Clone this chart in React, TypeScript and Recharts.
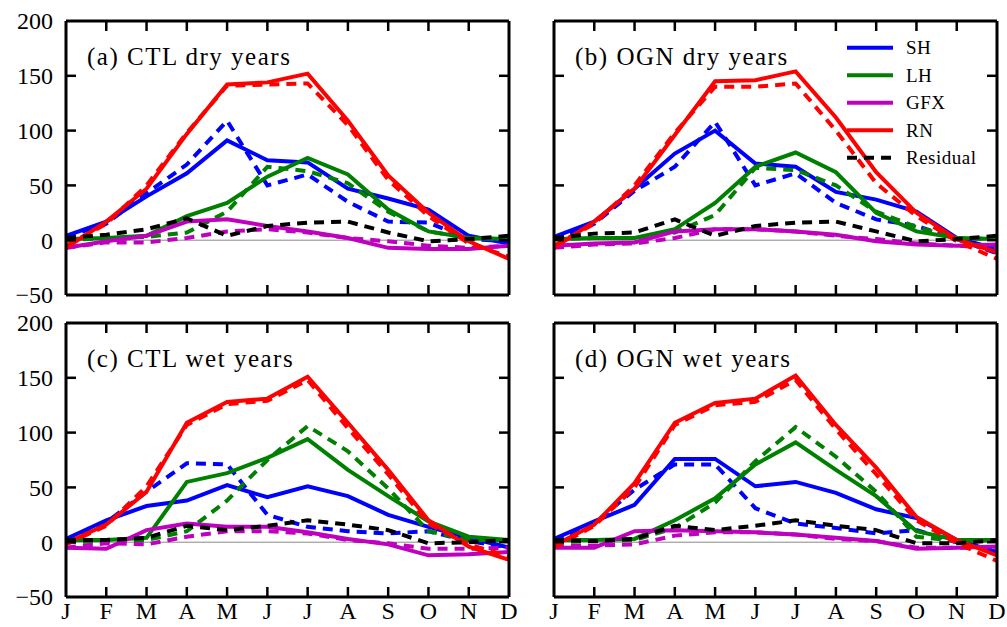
import React from "react";
import { LineChart, Line, XAxis, YAxis, ReferenceLine } from "recharts";

const months = ["J", "F", "M", "A", "M", "J", "J", "A", "S", "O", "N", "D"];
const monthIdx = months.map((_, i) => i);
const yTicks = [-50, 0, 50, 100, 150, 200];
const legendLabels = ["SH", "LH", "GFX", "RN", "Residual"];

// (a) CTL dry years  (solid = model, *D = dashed counterpart)
const aSH = [4, 17, 40, 61, 91, 73, 71, 47, 38, 28, 4, -3];
const aSHD = [3, 15, 43, 69, 109, 50, 60, 35, 17, 16, 1, -1];
const aLH = [1, 2, 4, 22, 34, 58, 75, 60, 28, 8, 2, 1];
const aLHD = [0, 2, 3, 7, 26, 67, 63, 52, 26, 8, 2, 1];
const aGFX = [-7, -1, 4, 17, 19, 13, 8, 2, -7, -8, -8, -5];
const aGFXD = [-7, -2, -2, 2, 8, 10, 7, 2, -1, -5, -7, -5];
const aRN = [-7, 17, 47, 97, 142, 144, 152, 109, 59, 25, -1, -17];
const aRND = [-5, 15, 50, 98, 141, 142, 143, 105, 55, 22, -3, -15];
const aRes = [2, 5, 10, 20, 4, 13, 16, 17, 7, -1, 1, 4];

// (b) OGN dry years
const bSH = [3, 17, 47, 79, 100, 70, 67, 44, 37, 26, 2, -8];
const bSHD = [1, 15, 45, 67, 108, 50, 61, 34, 19, 13, 1, -12];
const bLH = [1, 2, 2, 10, 34, 67, 80, 62, 25, 8, 2, 1];
const bLHD = [1, 2, 2, 7, 23, 66, 64, 50, 26, 12, 2, 1];
const bGFX = [-5, -3, -2, 8, 10, 10, 8, 5, -1, -4, -5, -4];
const bGFXD = [-7, -4, -3, 2, 10, 10, 8, 4, 1, -3, -5, -7];
const bRN = [-7, 17, 47, 96, 145, 146, 154, 112, 62, 25, 1, -11];
const bRND = [-5, 15, 50, 98, 140, 140, 143, 100, 52, 22, -1, -17];
const bRes = [2, 6, 7, 19, 4, 13, 16, 17, 8, -1, 1, 4];

// (c) CTL wet years
const cSH = [3, 20, 33, 38, 52, 41, 51, 42, 25, 14, 4, -5];
const cSHD = [2, 18, 46, 72, 71, 25, 14, 10, 8, 10, 1, -5];
const cLH = [2, 2, 4, 55, 63, 77, 94, 66, 42, 19, 5, 2];
const cLHD = [0, 1, 2, 10, 38, 75, 106, 83, 49, 10, 2, 2];
const cGFX = [-5, -6, 11, 17, 14, 14, 9, 3, -2, -12, -11, -9];
const cGFXD = [-5, -1, -2, 5, 10, 10, 8, 2, -1, -6, -6, -5];
const cRN = [-1, 16, 46, 109, 128, 131, 151, 109, 66, 20, -4, -16];
const cRND = [-2, 15, 51, 107, 126, 129, 148, 104, 62, 17, -2, -13];
const cRes = [2, 2, 4, 15, 11, 15, 20, 16, 11, -1, 0, 2];

// (d) OGN wet years
const dSH = [3, 19, 34, 76, 76, 51, 55, 45, 30, 22, 2, -9];
const dSHD = [2, 17, 48, 71, 71, 31, 17, 13, 8, 11, 0, -7];
const dLH = [2, 2, 3, 20, 40, 71, 91, 66, 42, 10, 2, 2];
const dLHD = [0, 1, 2, 13, 36, 74, 105, 78, 46, 5, 1, 2];
const dGFX = [-5, -5, 10, 11, 10, 9, 7, 4, 1, -6, -5, -4];
const dGFXD = [-4, -3, -2, 6, 9, 9, 7, 3, 1, -5, -5, -5];
const dRN = [-3, 16, 54, 109, 127, 131, 152, 107, 68, 23, 2, -12];
const dRND = [-5, 15, 50, 107, 125, 128, 148, 103, 62, 20, -1, -17];
const dRes = [2, 1, 3, 15, 11, 15, 20, 15, 11, -1, -1, 2];

const BLUE = "#0000ff";
const GREEN = "#008000";
const MAGENTA = "#bf00bf";
const RED = "#ff0000";
const DASH = "10 7";
const FONT = "Liberation Serif, DejaVu Serif, serif";

const legendColors = [BLUE, GREEN, MAGENTA, RED, "#000"];

const series = [
  { key: "sh", color: BLUE, dash: false },
  { key: "shD", color: BLUE, dash: true },
  { key: "lh", color: GREEN, dash: false },
  { key: "lhD", color: GREEN, dash: true },
  { key: "gfx", color: MAGENTA, dash: false },
  { key: "gfxD", color: MAGENTA, dash: true },
  { key: "rn", color: RED, dash: false },
  { key: "rnD", color: RED, dash: true },
  { key: "res", color: "#000", dash: true },
];

const PW = 443;
const PH = 274;
const Y0 = -50;
const Y1 = 200;
const TL = 10; // inward tick length in px

const panels = [
  { title: "(a) CTL dry years", x: 66, y: 21, showX: false, showY: true,
    v: { sh: aSH, shD: aSHD, lh: aLH, lhD: aLHD, gfx: aGFX, gfxD: aGFXD, rn: aRN, rnD: aRND, res: aRes } },
  { title: "(b) OGN dry years", x: 554, y: 21, showX: false, showY: false,
    v: { sh: bSH, shD: bSHD, lh: bLH, lhD: bLHD, gfx: bGFX, gfxD: bGFXD, rn: bRN, rnD: bRND, res: bRes } },
  { title: "(c) CTL wet years", x: 66, y: 323, showX: true, showY: true,
    v: { sh: cSH, shD: cSHD, lh: cLH, lhD: cLHD, gfx: cGFX, gfxD: cGFXD, rn: cRN, rnD: cRND, res: cRes } },
  { title: "(d) OGN wet years", x: 554, y: 323, showX: true, showY: false,
    v: { sh: dSH, shD: dSHD, lh: dLH, lhD: dLHD, gfx: dGFX, gfxD: dGFXD, rn: dRN, rnD: dRND, res: dRes } },
];

const frame = { stroke: "#000", strokeWidth: 3 };
const txt = { fontFamily: FONT, fontSize: 24, fill: "#000" };

const fmtY = (v: number) => (v < 0 ? "\u2212" + Math.abs(v) : String(v));

function MonthLabel({ x, y, payload, show }: any) {
  if (!show) return <g />;
  return (
    <text x={x} y={y + 22} textAnchor="middle" {...txt}>
      {months[payload.value]}
    </text>
  );
}

function ValueLabel({ x, y, payload, show }: any) {
  if (!show) return <g />;
  return (
    <text x={x - 13} y={y} dy="0.35em" textAnchor="end" {...txt}>
      {fmtY(payload.value)}
    </text>
  );
}

function Panel({ p }: { p: (typeof panels)[number] }) {
  const data = monthIdx.map((i) => {
    const row: Record<string, number> = { i };
    for (const s of series) row[s.key] = (p.v as any)[s.key][i];
    return row;
  });
  const leftW = p.showY ? 60 : 1;
  const bottomH = p.showX ? 28 : 1;
  const margin = { top: 19, right: 9, bottom: p.showX ? 2 : 19, left: 9 };
  const w = PW + leftW + 1 + margin.left + margin.right;
  const h = PH + bottomH + 1 + margin.top + margin.bottom;

  return (
    <div style={{ position: "absolute", left: p.x - leftW - margin.left, top: p.y - 1 - margin.top }}>
      <LineChart width={w} height={h} data={data} margin={margin}>
        <ReferenceLine xAxisId="b" yAxisId="l" y={0} stroke="#888" strokeWidth={1} />
        {series.map((s) => (
          <Line key={s.key} xAxisId="b" yAxisId="l" dataKey={s.key} type="linear"
            stroke={s.color} strokeWidth={4} strokeDasharray={s.dash ? DASH : undefined}
            dot={false} activeDot={false} isAnimationActive={false} />
        ))}
        <XAxis xAxisId="b" dataKey="i" type="number" domain={[0, 11]} ticks={monthIdx}
          allowDataOverflow orientation="bottom" height={bottomH} tickSize={0} tickMargin={0}
          axisLine={frame} tickLine={false} interval={0}
          tick={(t: any) => <MonthLabel {...t} show={p.showX} />} />
        <XAxis xAxisId="t" dataKey="i" type="number" domain={[0, 11]} ticks={monthIdx}
          allowDataOverflow orientation="top" height={1} tickSize={0} tickMargin={0}
          axisLine={frame} tickLine={false} interval={0} tick={() => <g />} />
        <YAxis yAxisId="l" type="number" domain={[Y0, Y1]} ticks={yTicks} allowDataOverflow
          orientation="left" width={leftW} tickSize={0} tickMargin={0} axisLine={frame}
          tickLine={false} interval={0} tick={(t: any) => <ValueLabel {...t} show={p.showY} />} />
        <YAxis yAxisId="r" type="number" domain={[Y0, Y1]} ticks={yTicks} allowDataOverflow
          orientation="right" width={1} tickSize={0} tickMargin={0} axisLine={frame}
          tickLine={false} interval={0} tick={() => <g />} />
      </LineChart>
    </div>
  );
}

// inward frame ticks, placed from the same panel geometry the charts use
function FrameTicks({ p }: { p: (typeof panels)[number] }) {
  const xs = monthIdx.slice(1, -1).map((i) => p.x + (i * PW) / 11);
  const ys = yTicks.slice(1, -1).map((v) => p.y + ((Y1 - v) * PH) / (Y1 - Y0));
  const bottom = p.y + PH;
  const right = p.x + PW;
  return (
    <g stroke="#000" strokeWidth={2.5}>
      {xs.map((x, k) => (
        <g key={"x" + k}>
          <line x1={x} x2={x} y1={p.y} y2={p.y + TL} />
          <line x1={x} x2={x} y1={bottom} y2={bottom - TL} />
        </g>
      ))}
      {ys.map((y, k) => (
        <g key={"y" + k}>
          <line x1={p.x} x2={p.x + TL} y1={y} y2={y} />
          <line x1={right} x2={right - TL} y1={y} y2={y} />
        </g>
      ))}
    </g>
  );
}

export default function App() {
  return (
    <div style={{ position: "absolute", left: 0, top: 0, width: 1007, height: 627,
      background: "#fff", overflow: "hidden" }}>
      {panels.map((p) => (
        <Panel key={p.title} p={p} />
      ))}
      <svg width={1007} height={627} style={{ position: "absolute", left: 0, top: 0, pointerEvents: "none" }}>
        {panels.map((p) => (
          <FrameTicks key={"t" + p.title} p={p} />
        ))}
        {panels.map((p) => (
          <text key={p.title} x={p.x + 21} y={p.y + 44} fontFamily={FONT} fontSize={25}
            fill="#000" style={{ letterSpacing: "1.5px" }}>
            {p.title}
          </text>
        ))}
        {legendLabels.map((label, k) => {
          const y = 47.7 + k * 27.5;
          return (
            <g key={label}>
              <line x1={847} x2={893} y1={y} y2={y} stroke={legendColors[k]} strokeWidth={4}
                strokeDasharray={label === "Residual" ? DASH : undefined} />
              <text x={906} y={y + 6.5} fontFamily={FONT} fontSize={19} fill="#000"
                style={{ letterSpacing: "0.5px" }}>
                {label}
              </text>
            </g>
          );
        })}
      </svg>
    </div>
  );
}
